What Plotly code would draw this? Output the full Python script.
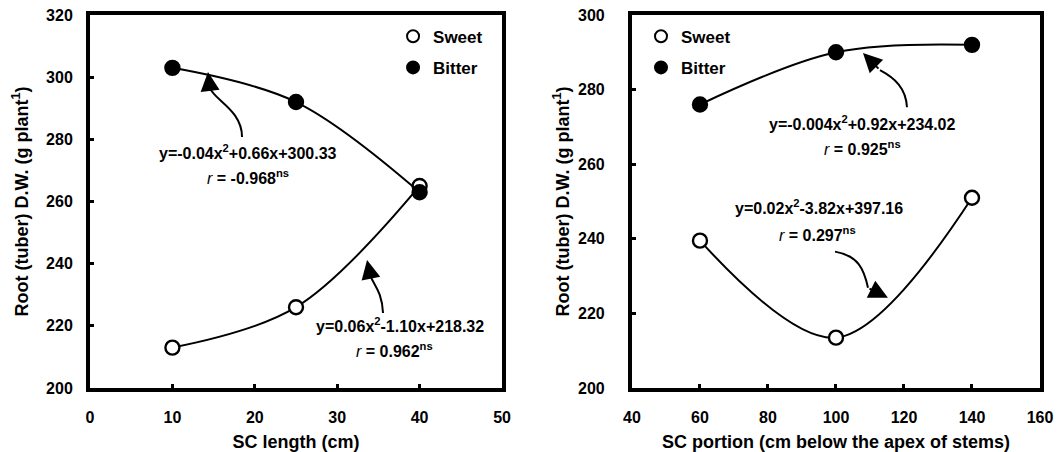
import plotly.graph_objects as go

# ---- data ----
length_cm = [10, 25, 40]
sweet_len = [213, 226, 265]
bitter_len = [303, 292, 263]

portion_cm = [60, 100, 140]
sweet_por = [239.5, 213.5, 251]
bitter_por = [276, 290, 292]

left_x_ticks = [0, 10, 20, 30, 40, 50]
left_y_ticks = [200, 220, 240, 260, 280, 300, 320]
right_x_ticks = [40, 60, 80, 100, 120, 140, 160]
right_y_ticks = [200, 220, 240, 260, 280, 300]

FONT = "Liberation Sans, Arial, Helvetica, sans-serif"
BOLD = dict(family=FONT, color="black", weight="bold")

fig = go.Figure()

def add_series(x, y, xa, ya, leg, name, filled):
    fig.add_trace(go.Scatter(
        x=x, y=y, mode="lines", xaxis=xa, yaxis=ya, showlegend=False,
        line=dict(color="black", width=2, shape="spline", smoothing=1.0),
        hoverinfo="skip"))
    fig.add_trace(go.Scatter(
        x=x, y=y, mode="markers", xaxis=xa, yaxis=ya, name=name,
        legend=leg, legendgroup=name + leg,
        marker=dict(size=14, color="black" if filled else "white",
                    line=dict(color="black", width=2.4), symbol="circle")))

add_series(length_cm, sweet_len, "x", "y", "legend", "Sweet", False)
add_series(length_cm, bitter_len, "x", "y", "legend", "Bitter", True)
add_series(portion_cm, sweet_por, "x2", "y2", "legend2", "Sweet", False)
add_series(portion_cm, bitter_por, "x2", "y2", "legend2", "Bitter", True)

axis_common = dict(showline=True, linecolor="black", linewidth=4, mirror=True,
                   ticks="inside", ticklen=4, tickwidth=3, tickcolor="black",
                   showgrid=False, zeroline=False, automargin=False,
                   ticklabeloverflow="allow",
                   tickfont=dict(size=16, **BOLD))
ytitle = "Root (tuber) D.W. (g plant<sup>1</sup>)"

fig.update_layout(
    width=1064, height=452,
    margin=dict(l=90, r=24, t=15, b=64, autoexpand=False),
    paper_bgcolor="white", plot_bgcolor="white",
    font=dict(size=16, **BOLD),
    xaxis=dict(domain=[0, 0.4337], range=[0, 50], tickvals=left_x_ticks,
               ticklabelstandoff=12,
               title=dict(text="SC length (cm)", font=dict(size=18, **BOLD), standoff=14),
               anchor="y", **axis_common),
    yaxis=dict(domain=[0, 1], range=[200, 320], tickvals=left_y_ticks,
               ticklabelstandoff=10,
               title=dict(text=ytitle, font=dict(size=18, **BOLD), standoff=14),
               anchor="x", **axis_common),
    xaxis2=dict(domain=[0.5705, 1], range=[40, 160], tickvals=right_x_ticks,
                ticklabelstandoff=12,
                title=dict(text="SC portion (cm below the apex of stems)", font=dict(size=18, **BOLD), standoff=14),
                anchor="y2", **axis_common),
    yaxis2=dict(domain=[0, 1], range=[200, 300], tickvals=right_y_ticks,
                ticklabelstandoff=20,
                title=dict(text=ytitle, font=dict(size=18, **BOLD), standoff=5),
                anchor="x2", **axis_common),
    legend=dict(x=0.319, y=0.99, xanchor="left", yanchor="top",
                bgcolor="rgba(0,0,0,0)", font=dict(size=17, **BOLD),
                itemsizing="constant", traceorder="grouped", tracegroupgap=6),
    legend2=dict(x=0.58, y=0.99, xanchor="left", yanchor="top",
                 bgcolor="rgba(0,0,0,0)", font=dict(size=17, **BOLD),
                 itemsizing="constant", traceorder="grouped", tracegroupgap=6),
    showlegend=True,
)

# ---- equation annotations ----
RSTYLE = '<span style="font-weight:normal"><i>r</i></span>'
texts = [
    ("x", "y", 19.17, 275.9, "y=-0.04x<sup>2</sup>+0.66x+300.33"),
    ("x", "y", 19.17, 267.9, RSTYLE + " = -0.968<sup>ns</sup>"),
    ("x", "y", 37.62, 220.3, "y=0.06x<sup>2</sup>-1.10x+218.32"),
    ("x", "y", 37.0, 212.2, RSTYLE + " = 0.962<sup>ns</sup>"),
    ("x2", "y2", 107.94, 271.0, "y=-0.004x<sup>2</sup>+0.92x+234.02"),
    ("x2", "y2", 107.94, 264.25, RSTYLE + " = 0.925<sup>ns</sup>"),
    ("x2", "y2", 95.0, 248.4, "y=0.02x<sup>2</sup>-3.82x+397.16"),
    ("x2", "y2", 94.7, 241.4, RSTYLE + " = 0.297<sup>ns</sup>"),
]
for xr, yr, x, y, t in texts:
    fig.add_annotation(xref=xr, yref=yr, x=x, y=y, text=t, showarrow=False,
                       font=dict(size=16, **BOLD), xanchor="center", yanchor="middle")

# ---- curved arrows: stem path + arrowhead ----
arrows = [
    ("x", "y", "M 18.45,280.75 C 18.45,289.4 15.05,292.65 14.56,296.5", 14.32, 301.66, 2, 18),
    ("x", "y", "M 35.56,224.13 C 35.44,230.9 34.47,233.1 34.1,235.7", 33.62, 241.18, 4, 19),
    ("x2", "y2", "M 120.88,275.27 C 120.59,280.38 117.35,283.06 112.94,285.2", 107.94, 289.78, 17, 17),
    ("x2", "y2", "M 99.71,236.56 C 106.47,235.48 108.24,231.99 109.41,226.88", 115.29, 224.19, -20, -10),
]
for xr, yr, path, tx, ty, ax, ay in arrows:
    fig.add_shape(type="path", xref=xr, yref=yr, path=path,
                  line=dict(color="black", width=2))
    fig.add_annotation(xref=xr, yref=yr, x=tx, y=ty, ax=ax, ay=ay, text="",
                       showarrow=True, arrowhead=2, arrowsize=1.9, arrowwidth=2,
                       arrowcolor="black")

# remove the default 8px page margin so the 1064x452 figure fills the window exactly
fig.write_html("out.html", config={"displayModeBar": False},
               post_script="document.body.style.margin='0';")
